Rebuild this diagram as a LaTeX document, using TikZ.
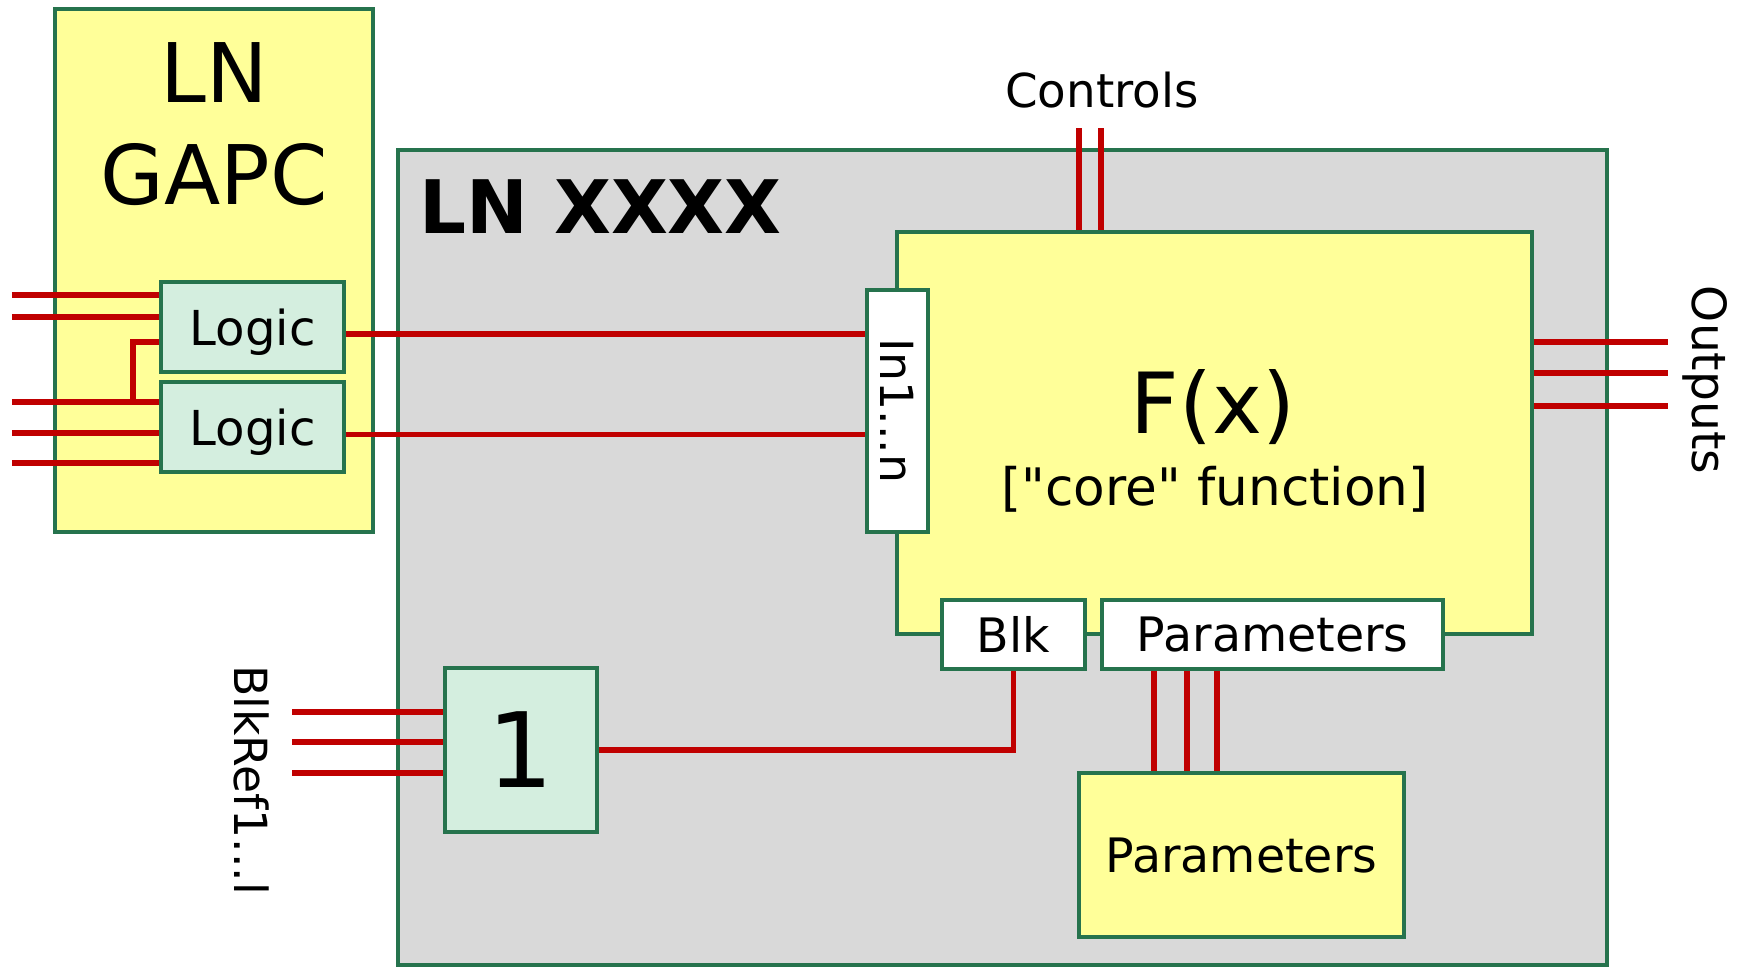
\documentclass[tikz,border=0pt]{standalone}
\usepackage{fontspec}
\setmainfont{DejaVu Sans}[Ligatures=TeXOff]
\usepackage{xcolor}
\usepackage{tikz}
\usetikzlibrary{positioning}
\definecolor{lngreen}{RGB}{38,115,77}
\definecolor{lnyellow}{RGB}{255,255,153}
\definecolor{lnmint}{RGB}{212,238,223}
\definecolor{lngray}{RGB}{217,217,217}
\definecolor{wirered}{RGB}{192,0,0}

\begin{document}
\begin{tikzpicture}[
  font=\fontsize{13}{16}\selectfont,
  box/.style={draw=lngreen, line width=1.2pt, inner sep=0pt, text depth=0pt},
  wire/.style={draw=wirered, line width=1.5pt},
  vtext/.style={rotate=-90, inner sep=0pt}]
\useasboundingbox (0,0) rectangle (17.4,-9.66);
\node[box, fill=lnyellow, minimum width=3.18cm, minimum height=5.23cm] (gapc) at (2.14,-2.705) {};
\node[font=\fontsize{23.4}{29}\selectfont, align=center] (gapcT) at (2.14,-1.24) {LN\\GAPC};
\node[box, fill=lngray, minimum width=12.09cm, minimum height=8.15cm] (lnx) at (10.025,-5.575) {};
\node[font=\bfseries\fontsize{21}{25}\selectfont, anchor=base west, inner sep=0pt] (lnxT) at (4.19,-2.33) {LN XXXX};
\node[box, fill=lnyellow, minimum width=6.35cm, minimum height=4.02cm] (fx) at (12.145,-4.33) {};
\node[anchor=base, font=\fontsize{24}{29}\selectfont] (fxT) at (12.13,-4.33) {F(x)};
\node[anchor=base, font=\fontsize{14.7}{17}\selectfont] (coreT) at (12.15,-5.05) {["core" function]};
\node[box, fill=white, minimum width=0.61cm, minimum height=2.42cm] (inbox) at (8.975,-4.11) {};
\node[vtext] (inT) at (inbox) {In1...n};
\node[box, fill=lnmint, minimum width=1.83cm, minimum height=0.9cm, font=\fontsize{13.7}{16}\selectfont] (logic1) at (2.525,-3.27) {Logic};
\node[box, fill=lnmint, minimum width=1.83cm, minimum height=0.9cm, font=\fontsize{13.7}{16}\selectfont, below=0.06 of logic1] (logic2) {Logic};
\node[box, fill=white, minimum width=1.43cm, minimum height=0.69cm, font=\fontsize{13.5}{16}\selectfont] (blk) at (10.135,-6.345) {Blk};
\node[box, fill=white, minimum width=3.41cm, minimum height=0.69cm, font=\fontsize{13.5}{16}\selectfont, right=0.13 of blk] (parA) {Parameters};
\node[box, fill=lnyellow, minimum width=3.25cm, minimum height=1.64cm, font=\fontsize{13.5}{16}\selectfont] (parB) at (12.415,-8.55) {Parameters};
\node[box, fill=lnmint, minimum width=1.52cm, minimum height=1.64cm, font=\fontsize{29.6}{34}\selectfont] (one) at (5.21,-7.50) {1};
\node[anchor=base, font=\fontsize{13.3}{16}\selectfont] (ctlT) at (11.02,-1.07) {Controls};
\node[vtext, font=\fontsize{13.4}{16}\selectfont] (outT) at (17.05,-3.80) {Outputs};
\node[vtext] (refT) at (2.515,-7.80) {BlkRef1...l};
% free ends of the wires
\foreach \w/\y in {a/2.95,b/3.17,c/4.02,d/4.33,e/4.63} \coordinate (in\w) at (0.12,-\y);
\coordinate (jog) at (1.33,-3.42);
\foreach \w/\x in {a/10.79,b/11.01} \coordinate (ctl\w) at (\x,-1.28);
\foreach \w/\y in {a/3.42,b/3.73,c/4.06} \coordinate (out\w) at (16.68,-\y);
\foreach \w/\y in {a/7.12,b/7.42,c/7.73} \coordinate (ref\w) at (2.92,-\y);
% wires
\foreach \w in {a,b} \draw[wire] (in\w) -- (in\w -| logic1.west);
\foreach \w in {c,d,e} \draw[wire] (in\w) -- (in\w -| logic2.west);
\draw[wire] (jog |- inc) -- (jog) -- (jog -| logic1.west);
\foreach \t in {logic1,logic2} \draw[wire] ([yshift=-0.07cm]\t.east) -- ([yshift=-0.07cm]\t.east -| inbox.west);
\foreach \w in {a,b} \draw[wire] (ctl\w) -- (ctl\w |- fx.north);
\foreach \w in {a,b,c} \draw[wire] (fx.east |- out\w) -- (out\w);
\foreach \w in {a,b,c} \draw[wire] (ref\w) -- (ref\w -| one.west);
\draw[wire] (one.east) -| (blk.south);
\foreach \x in {11.54,11.87,12.17} \draw[wire] (parA.south -| \x,0) -- (parB.north -| \x,0);
\end{tikzpicture}
\end{document}
